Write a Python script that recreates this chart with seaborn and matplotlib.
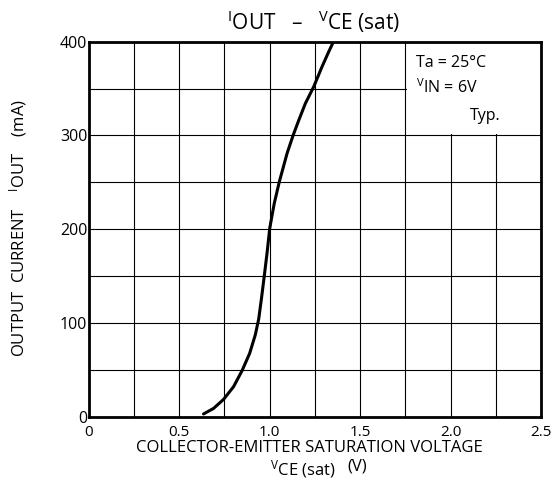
import matplotlib
matplotlib.use("Agg")
import matplotlib.pyplot as plt
from matplotlib.patches import Rectangle
import seaborn as sns
import pandas as pd

# Curve data (VCE(sat) in V, IOUT in mA)
vce = [0.634, 0.690, 0.745, 0.800, 0.847, 0.889, 0.920, 0.939, 0.955, 0.970, 0.985,
       1.000, 1.025, 1.053, 1.096, 1.129, 1.160, 1.197, 1.243, 1.289, 1.326, 1.352]
iout = [2.7, 8.7, 18.3, 31.8, 48.9, 67.4, 87.0, 104.0, 127.0, 150.3, 174.2,
        200.9, 227.5, 250.6, 281.0, 300.0, 316.0, 334.2, 352.0, 373.4, 389.4, 400.0]

x_ticks = [0, 0.5, 1.0, 1.5, 2.0, 2.5]
x_tick_labels = ["0", "0.5", "1.0", "1.5", "2.0", "2.5"]
y_ticks = [0, 100, 200, 300, 400]
y_tick_labels = ["0", "100", "200", "300", "400"]
x_grid = [0.25, 0.5, 0.75, 1.0, 1.25, 1.5, 1.75, 2.0, 2.25]
y_grid = [50, 100, 150, 200, 250, 300, 350]

sns.set_theme(style="white")
plt.rcParams['font.family'] = ['Open Sans', 'DejaVu Sans']
plt.rcParams['mathtext.fontset'] = 'custom'
plt.rcParams['mathtext.rm'] = 'Open Sans'
plt.rcParams['mathtext.it'] = 'Open Sans'
plt.rcParams['mathtext.sf'] = 'Open Sans'
plt.rcParams['text.color'] = 'black'
plt.rcParams['xtick.color'] = 'black'
plt.rcParams['ytick.color'] = 'black'

fig = plt.figure(figsize=(5.55, 4.86), dpi=100)
ax = fig.add_axes([0.160, 0.143, 0.815, 0.771])

df = pd.DataFrame({"VCE": vce, "IOUT": iout})
sns.lineplot(data=df, x="VCE", y="IOUT", ax=ax, color="black", linewidth=2.2,
             zorder=3, sort=False)

ax.set_xlim(0, 2.5)
ax.set_ylim(0, 400)

# grid
for gx in x_grid:
    ax.axvline(gx, color="black", linewidth=0.8, zorder=1)
for gy in y_grid:
    ax.axhline(gy, color="black", linewidth=0.8, zorder=1)

# white annotation box hiding the grid
ax.add_patch(Rectangle((1.757, 302), 0.75, 100, facecolor="white", edgecolor="none", zorder=2))
ax.text(1.81, 373, "Ta = 25°C", fontsize=11.5, va="baseline", ha="left", zorder=4, color="black")
ax.text(1.81, 345, r"$^{\mathrm{V}}$IN = 6V", fontsize=11.5, va="baseline", ha="left", zorder=4, color="black")
ax.text(2.105, 316, "Typ.", fontsize=11.5, va="baseline", ha="left", zorder=4, color="black")

ax.set_xticks(x_ticks)
ax.set_xticklabels(x_tick_labels, fontsize=11)
ax.set_yticks(y_ticks)
ax.set_yticklabels(y_tick_labels, fontsize=11.5)
ax.tick_params(axis="x", length=0, pad=6, colors="black", labelcolor="black")
ax.tick_params(axis="y", length=0, pad=1, colors="black", labelcolor="black")

for s in ax.spines.values():
    s.set_color("black")
    s.set_linewidth(2.0)

ax.set_xlabel("")
ax.set_ylabel("")
fig.text(0.558, 0.078, "COLLECTOR-EMITTER SATURATION VOLTAGE", ha="center", va="center",
         fontsize=12, color="black")
fig.text(0.545, 0.022, r"$^{\mathrm{V}}$CE (sat)", ha="center", va="baseline", fontsize=12, color="black")
fig.text(0.643, 0.031, "(V)", ha="center", va="baseline", fontsize=12, color="black")
fig.text(0.032, 0.53, r"OUTPUT  CURRENT    $^{\mathrm{I}}$OUT    (mA)", ha="center", va="center",
         rotation=90, fontsize=12, color="black")
fig.text(0.565, 0.938, r"$^{\mathrm{I}}$OUT   –   $^{\mathrm{V}}$CE (sat)", ha="center", va="baseline",
         fontsize=15, color="black")

fig.savefig("out.png", dpi=100)
